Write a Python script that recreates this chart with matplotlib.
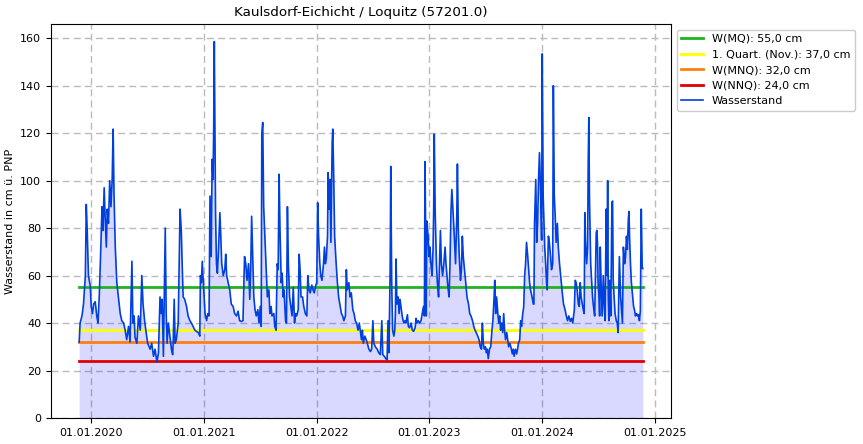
import numpy as np
import matplotlib
matplotlib.use("Agg")
import matplotlib.pyplot as plt
import matplotlib.dates as mdates

# Day offsets relative to 2020-01-01 and water levels (cm)
days_a = [-39, -36, -30, -25, -19, -16, -13, -9, -3, 0, 4, 8, 13, 18, 22, 26, 30, 35, 38, 42,
          45, 49, 52, 56, 60, 64, 68, 71, 74, 78, 83, 88, 94, 99, 105, 110, 115, 121, 126, 132,
          135, 139, 142, 148, 153, 159, 164, 168, 173, 177, 183, 191, 196, 202, 207, 213, 218,
          223, 227, 230, 234, 240, 243, 246, 250]
level_a = [32, 40, 43, 48, 60, 90, 79, 60, 55.5, 47, 44, 48, 49, 43, 40, 51, 67, 89, 79, 97,
           85, 72, 88, 82, 100, 89, 100.5, 121.7, 93.5, 72, 57, 51, 44, 41, 40, 37, 33, 38.6, 32, 66,
           40, 43, 34, 31.5, 43, 37, 60, 48, 41, 37, 31.5, 29, 31.5, 26, 29, 23.5, 27.5,
           51, 44, 50, 26, 80, 44, 31.5, 40]

days_b = [260, 264, 266, 269, 272, 276, 282, 285, 288, 292, 295, 298, 303, 309, 314, 320, 325,
          330, 336, 341, 347, 352, 354, 357, 360, 363, 366, 369, 374, 378, 382, 385, 389, 392,
          395, 397, 399, 403, 406, 409, 413, 417, 420, 423, 428, 433, 436, 439, 444, 449, 454,
          460, 465, 471, 476, 481, 487, 492, 497, 501, 505, 510, 514, 517, 520, 524, 527, 531,
          535, 540, 544, 548, 551, 553, 556, 559, 562]
level_b = [29, 26.7, 33, 50, 31.5, 33, 40, 65, 88, 79, 64, 51, 50, 47, 43, 41, 40,
           38.6, 37, 36.5, 36, 34.5, 60, 57, 66, 58, 51, 44, 41, 44, 43, 93.5, 68, 109,
           100.5, 121.7, 158.6, 86.5, 65, 61, 72, 86.5, 76.6, 65, 60, 62.5, 69, 60, 57, 54, 48,
           47, 44, 43, 45, 41, 40.7, 41, 68, 65, 58, 65, 50, 62.5, 85, 65, 51, 45.6,
           43, 45.6, 40, 47, 38.6, 120, 124.5, 89, 79]

days_c = [568, 571, 576, 579, 583, 586, 592, 595, 599, 603, 606, 609, 612, 616, 619, 622, 625,
          630, 633, 636, 639, 643, 647, 651, 655, 659, 662, 666, 671, 674, 677, 680, 685, 689,
          694, 699, 702, 706, 710, 715, 719, 723, 728, 731, 734, 737, 741, 744, 748, 753, 756,
          759, 762, 766, 768, 771, 774, 777, 781, 783, 786, 789, 794, 798, 802, 807, 811, 815,
          819, 824, 827, 830, 835, 839, 843, 848, 852, 856, 860, 865, 869]
level_c = [60, 51, 54, 44, 47, 43, 44, 38.6, 37, 65, 62.5, 102.7, 79, 57, 61, 51, 54,
           41, 40, 89, 65, 51, 47, 43, 55, 40, 44, 43, 45.6, 69, 62.5, 51, 51, 47,
           44, 43, 60, 54, 52.7, 56, 54, 52.7, 56, 57, 90.7, 76.6, 65, 60, 58, 65, 72,
           65, 67, 76.6, 103.4, 88, 100.5, 74, 116, 121.7, 102, 76.6, 65, 57, 51, 47, 44, 43,
           41, 43, 62.5, 54, 57, 51, 52.7, 45.6, 44, 41, 40, 37, 40]

days_d = [876, 879, 882, 887, 891, 894, 900, 905, 909, 913, 916, 921, 927, 932, 937, 942, 945,
          950, 955, 959, 962, 965, 969, 971, 974, 977, 981, 984, 986, 988, 991, 995, 998, 1001,
          1004, 1008, 1011, 1014, 1017, 1020, 1025, 1028, 1032, 1037, 1041, 1045, 1050, 1053,
          1056, 1060, 1065, 1069, 1073, 1077, 1080, 1082, 1084, 1086, 1088, 1092, 1095, 1098,
          1101, 1105, 1108, 1110, 1112, 1115, 1119, 1122, 1126, 1129, 1132, 1135, 1139, 1143,
          1147, 1150, 1153, 1156, 1160, 1163, 1166, 1169, 1173, 1176]
level_d = [33, 37, 31.5, 34.5, 33, 32, 29, 28, 29, 41, 31.5, 30, 29, 27.5, 26.7, 41, 26.7,
           26, 25, 24.5, 41, 27.5, 62.5, 106, 57, 37, 34.5, 37, 44, 67, 48, 51, 44, 50,
           47, 43, 41, 40, 41, 40, 43.5, 38.6, 38, 40, 37, 36.5, 38, 42,
           40, 41, 40, 41, 44, 47, 43, 108, 79, 43, 83, 76.6, 68, 72,
           65, 60, 71, 87, 119.6, 86.5, 65, 57, 51, 65, 79, 65, 60, 65,
           72, 65, 60, 55.5, 51, 65, 86.5, 96.3, 86.5, 79]

days_e = [1181, 1185, 1187, 1190, 1193, 1197, 1200, 1203, 1206, 1210, 1214, 1218, 1223, 1227,
          1231, 1236, 1240, 1244, 1248, 1253, 1257, 1261, 1265, 1268, 1271, 1274, 1278, 1281,
          1284, 1287, 1291, 1295, 1299, 1302, 1306, 1308, 1311, 1314, 1318, 1321, 1324, 1327,
          1330, 1334, 1337, 1340, 1343, 1347, 1350, 1353, 1357, 1362, 1365, 1368, 1371, 1375,
          1379, 1382, 1385, 1389, 1392, 1395, 1398, 1402, 1405, 1408, 1411, 1415, 1418, 1421,
          1424, 1429, 1433, 1435, 1437, 1441, 1444, 1447, 1450, 1453, 1457, 1460, 1462, 1465,
          1470, 1473, 1476, 1478, 1482, 1485]
level_e = [65, 85, 107, 79, 68, 58, 62.5, 76.6, 68, 62.5, 57, 51, 48, 44,
           43, 41, 38.6, 37, 36, 34.5, 33, 30, 29, 40, 31.5, 29, 30, 27.5,
           29, 25, 29, 30, 37, 41, 51, 58, 44, 51, 44, 40, 43, 37,
           40, 36, 44, 37, 33, 36, 33, 30, 31.5, 29, 27, 29, 26, 29,
           27, 29, 31.5, 33, 41, 38.6, 43, 47, 60, 65, 74, 68, 62.5, 57,
           54, 51, 48, 48, 82, 100.5, 74, 82, 100.5, 111.8, 93.5, 75, 153.4, 93.5,
           72, 65, 57, 54, 76.6, 74]

days_f = [1489, 1492, 1496, 1498, 1501, 1504, 1507, 1511, 1514, 1518, 1523, 1527, 1531, 1536,
          1540, 1544, 1548, 1553, 1557, 1561, 1566, 1569, 1572, 1575, 1579, 1582, 1585, 1588,
          1592, 1595, 1598, 1600, 1602, 1606, 1609, 1611, 1613, 1615, 1619, 1622, 1625, 1628,
          1632, 1635, 1637, 1639, 1641, 1643, 1646, 1648, 1650, 1653, 1656, 1660, 1663, 1666,
          1669, 1672, 1674, 1676, 1678, 1681, 1684, 1688, 1690, 1692, 1695, 1698, 1702, 1705,
          1708, 1710, 1712, 1716, 1719, 1722, 1725, 1729, 1732, 1735, 1738, 1741, 1743, 1745,
          1748, 1751, 1755, 1758, 1761, 1764, 1768, 1771, 1774, 1777, 1780, 1783, 1786, 1788]
level_f = [68, 62.5, 65, 140, 93.5, 85, 74, 82, 72, 65, 58, 52.7, 48, 45.6,
           43, 41, 43, 40.7, 42, 40, 45.6, 58, 57, 54, 48, 47, 57, 51,
           48, 45.6, 44, 86.5, 75, 65, 72, 107.6, 126.6, 93.5, 65, 58, 51, 47,
           43, 65, 78, 79, 74, 57, 51, 43, 72, 55.5, 43, 60, 47, 41,
           88, 60, 100, 51, 41, 58, 43, 90.7, 91.4, 58, 51, 44, 41, 40,
           36, 51, 68, 51, 45.6, 40, 72, 65, 68, 76.6, 71, 83.6, 87, 76.6,
           65, 57, 51, 47, 45.6, 43, 44, 43, 43.5, 41, 45, 88, 63, 63]

start_date = "2020-01-01"
mq, quart, mnq, nnq = 55.0, 37.0, 32.0, 24.0
ref_labels = ["W(MQ): 55,0 cm", "1. Quart. (Nov.): 37,0 cm", "W(MNQ): 32,0 cm", "W(NNQ): 24,0 cm"]
ref_values = [mq, quart, mnq, nnq]
ref_colors = ["#1fb41f", "#ffff00", "#ff7f0e", "#e00000"]

days = np.array(days_a + days_b + days_c + days_d + days_e + days_f)
levels = np.array(level_a + level_b + level_c + level_d + level_e + level_f, dtype=float)
dates = np.datetime64(start_date) + days.astype("timedelta64[D]")

fig = plt.figure(figsize=(8.63, 4.44), dpi=100)
ax = fig.add_axes([51 / 863, 26 / 444, 620 / 863, 394 / 444])

for lab, val, col in zip(ref_labels, ref_values, ref_colors):
    ax.plot([dates[0], dates[-1]], [val, val], color=col, lw=2, label=lab, zorder=3)

ax.fill_between(dates, levels, 0, color="blue", alpha=0.15, lw=0)
ax.plot(dates, levels, color="#0040e0", lw=1.2, label="Wasserstand", zorder=4)

ax.xaxis.set_major_locator(mdates.YearLocator())
ax.xaxis.set_major_formatter(mdates.DateFormatter("%d.%m.%Y"))
ax.grid(True, linestyle=(0, (5, 3)), color="#bbbbbb", lw=1)
ax.set_axisbelow(True)
ax.set_ylim(0, 166)
ax.set_title("Kaulsdorf-Eichicht / Loquitz (57201.0)", fontsize=9.7)
ax.set_ylabel("Wasserstand in cm ü. PNP", fontsize=8)
ax.tick_params(labelsize=8)
ax.legend(loc="upper left", bbox_to_anchor=(1.0, 1.0), fontsize=8, framealpha=1)

fig.savefig("out.png", dpi=100)
